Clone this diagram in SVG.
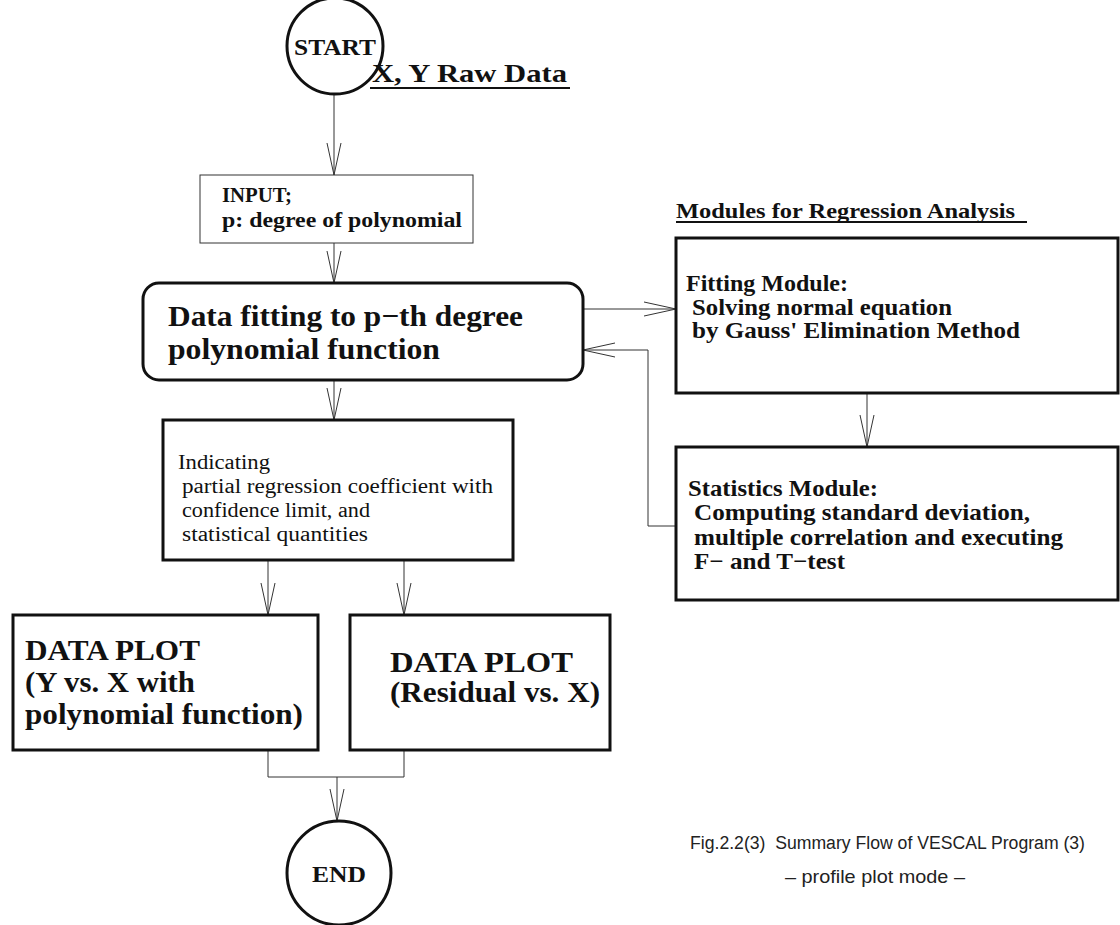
<svg xmlns="http://www.w3.org/2000/svg" width="1120" height="925" viewBox="0 0 1120 925">
<defs>
<style>
.box{fill:#fff;stroke:#111;stroke-width:3}
.thin{fill:#fff;stroke:#333;stroke-width:1}
.con{fill:none;stroke:#333;stroke-width:1}
.b{font-family:"Liberation Serif",serif;font-weight:bold;fill:#111}
.r{font-family:"Liberation Serif",serif;fill:#111}
.cap{font-family:"Liberation Sans",Arial,sans-serif;fill:#222}
</style>
<marker id="ah" markerUnits="userSpaceOnUse" markerWidth="40" markerHeight="20" refX="32" refY="8" orient="auto" viewBox="0 0 40 16">
<path d="M0,1 L32,8 L0,15" fill="none" stroke="#333" stroke-width="1"/>
</marker>
</defs>
<rect width="1120" height="925" fill="#fff"/>

<g id="connectors">
<line class="con" x1="334" y1="94" x2="334" y2="175" marker-end="url(#ah)"/>
<line class="con" x1="334" y1="243" x2="334" y2="283" marker-end="url(#ah)"/>
<line class="con" x1="583" y1="309" x2="676" y2="309" marker-end="url(#ah)"/>
<polyline class="con" points="676,526 648,526 648,350 583,350" marker-end="url(#ah)"/>
<line class="con" x1="867" y1="393" x2="867" y2="447" marker-end="url(#ah)"/>
<line class="con" x1="334" y1="380" x2="334" y2="420" marker-end="url(#ah)"/>
<line class="con" x1="268" y1="560" x2="268" y2="615" marker-end="url(#ah)"/>
<line class="con" x1="404" y1="560" x2="404" y2="615" marker-end="url(#ah)"/>
<polyline class="con" points="268,750 268,777 404,777 404,750"/>
<line class="con" x1="337" y1="777" x2="337" y2="821" marker-end="url(#ah)"/>
</g>

<g id="start">
<circle cx="335" cy="46" r="48" fill="#fff" stroke="#111" stroke-width="3"/>
<text class="b" x="294" y="55" font-size="24" textLength="82" lengthAdjust="spacingAndGlyphs">START</text>
</g>

<g id="rawdata">
<text class="b" x="372" y="82" font-size="26" textLength="195" lengthAdjust="spacingAndGlyphs">X, Y Raw Data</text>
<line x1="370" y1="88" x2="570" y2="88" stroke="#111" stroke-width="2"/>
</g>

<g id="input">
<rect class="thin" x="200" y="175" width="273" height="68"/>
<text class="b" x="222" y="202" font-size="20" textLength="70" lengthAdjust="spacingAndGlyphs">INPUT;</text>
<text class="b" x="222" y="227" font-size="20" textLength="240" lengthAdjust="spacingAndGlyphs">p: degree of polynomial</text>
</g>

<g id="fit">
<rect class="box" x="143" y="283" width="440" height="97" rx="16"/>
<text class="b" x="168" y="326" font-size="30" textLength="355" lengthAdjust="spacingAndGlyphs">Data fitting to p−th degree</text>
<text class="b" x="168" y="359" font-size="30" textLength="272" lengthAdjust="spacingAndGlyphs">polynomial function</text>
</g>

<g id="modules-label">
<text class="b" x="676" y="218" font-size="22" textLength="339" lengthAdjust="spacingAndGlyphs">Modules for Regression Analysis</text>
<line x1="676" y1="222" x2="1027" y2="222" stroke="#111" stroke-width="2"/>
</g>

<g id="fitting-module">
<rect class="box" x="676" y="238" width="442" height="155"/>
<text class="b" x="686" y="291" font-size="23" textLength="162" lengthAdjust="spacingAndGlyphs">Fitting Module:</text>
<text class="b" x="692" y="315" font-size="23" textLength="260" lengthAdjust="spacingAndGlyphs">Solving normal equation</text>
<text class="b" x="692" y="338" font-size="23" textLength="328" lengthAdjust="spacingAndGlyphs">by Gauss' Elimination Method</text>
</g>

<g id="statistics-module">
<rect class="box" x="676" y="447" width="442" height="153"/>
<text class="b" x="688" y="496" font-size="23" textLength="190" lengthAdjust="spacingAndGlyphs">Statistics Module:</text>
<text class="b" x="694" y="520" font-size="23" textLength="336" lengthAdjust="spacingAndGlyphs">Computing standard deviation,</text>
<text class="b" x="694" y="545" font-size="23" textLength="369" lengthAdjust="spacingAndGlyphs">multiple correlation and executing</text>
<text class="b" x="694" y="569" font-size="23" textLength="151" lengthAdjust="spacingAndGlyphs">F− and T−test</text>
</g>

<g id="indicating">
<rect class="box" x="163" y="420" width="350" height="140"/>
<text class="r" x="178" y="469" font-size="20" textLength="92" lengthAdjust="spacingAndGlyphs">Indicating</text>
<text class="r" x="182" y="493" font-size="20" textLength="311" lengthAdjust="spacingAndGlyphs">partial regression coefficient with</text>
<text class="r" x="182" y="517" font-size="20" textLength="188" lengthAdjust="spacingAndGlyphs">confidence limit, and</text>
<text class="r" x="182" y="541" font-size="20" textLength="186" lengthAdjust="spacingAndGlyphs">statistical quantities</text>
</g>

<g id="plot-yx">
<rect class="box" x="13" y="615" width="305" height="135"/>
<text class="b" x="25" y="660" font-size="30" textLength="175" lengthAdjust="spacingAndGlyphs">DATA PLOT</text>
<text class="b" x="25" y="692" font-size="30" textLength="170" lengthAdjust="spacingAndGlyphs">(Y vs. X with</text>
<text class="b" x="25" y="724" font-size="30" textLength="278" lengthAdjust="spacingAndGlyphs">polynomial function)</text>
</g>

<g id="plot-res">
<rect class="box" x="350" y="615" width="260" height="135"/>
<text class="b" x="390" y="672" font-size="30" textLength="183" lengthAdjust="spacingAndGlyphs">DATA PLOT</text>
<text class="b" x="390" y="702" font-size="30" textLength="210" lengthAdjust="spacingAndGlyphs">(Residual vs. X)</text>
</g>

<g id="end">
<circle cx="339" cy="873" r="52" fill="#fff" stroke="#111" stroke-width="3"/>
<text class="b" x="312" y="882" font-size="24" textLength="54" lengthAdjust="spacingAndGlyphs">END</text>
</g>

<g id="caption">
<text class="cap" x="690" y="849" font-size="18" textLength="395" lengthAdjust="spacingAndGlyphs" xml:space="preserve">Fig.2.2(3)  Summary Flow of VESCAL Program (3)</text>
<text class="cap" x="785" y="883" font-size="19" textLength="180" lengthAdjust="spacingAndGlyphs">– profile plot mode –</text>
</g>
</svg>
